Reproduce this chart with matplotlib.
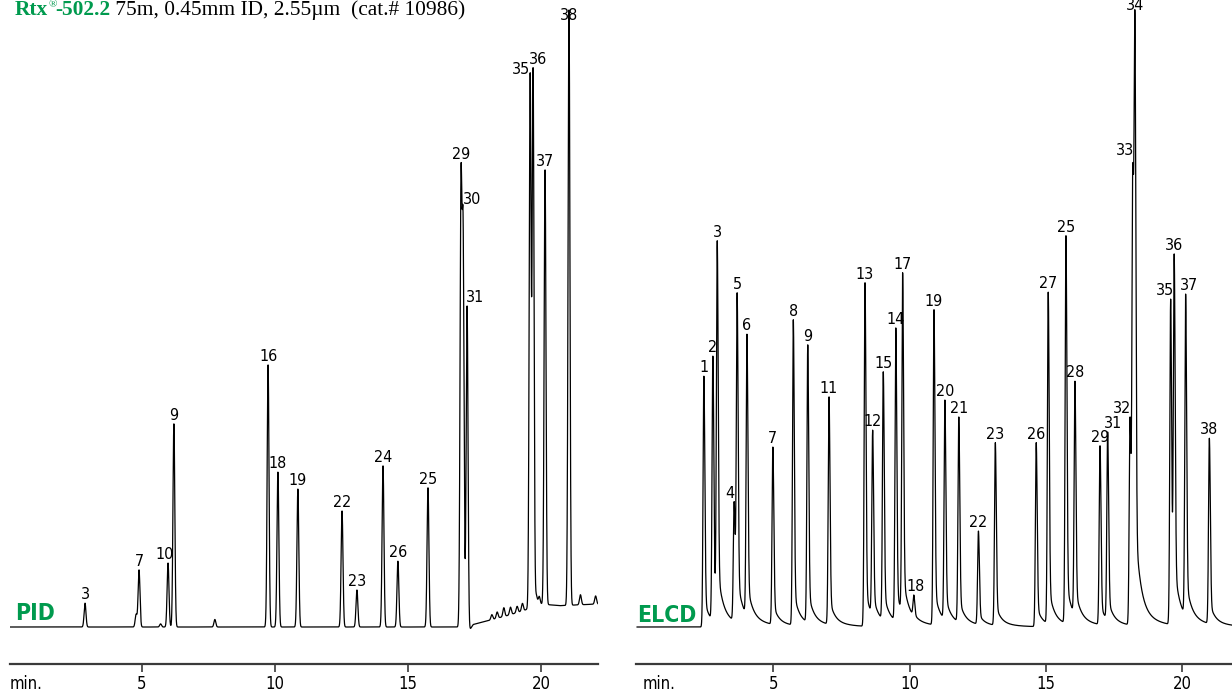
import os
import numpy as np
import matplotlib.pyplot as plt
from matplotlib import font_manager
from matplotlib.font_manager import FontProperties

# ---- data (time in min, apex level in % of full scale) ----
pid_ids = ['3', '7', '10', '9', '16', '18', '19', '22', '23', '24', '26', '25',
           '29', '30', '31', '35', '36', '37', '38']
pid_rt = [2.86, 4.89, 5.98, 6.20, 9.74, 10.11, 10.86, 12.52, 13.08, 14.06, 14.62, 15.75,
          16.99, 17.07, 17.22, 19.59, 19.70, 20.15, 21.05]
pid_height = [3.8, 9.1, 10.2, 32.4, 41.8, 24.7, 22.0, 18.5, 5.9, 25.7, 10.5, 22.2,
              73.0, 65.5, 51.2, 88.4, 89.2, 72.9, 98.4]

# small unlabeled bumps / noise on the PID trace
pid_minor_rt = [4.78, 5.70, 7.74, 18.15, 18.35, 18.60, 18.85, 19.10, 19.30, 19.82, 19.93, 21.48, 22.05]
pid_minor_height = [2.0, 0.5, 1.2, 0.8, 1.0, 1.4, 1.2, 1.0, 1.2, 1.5, 1.2, 1.6, 1.3]

# PID baseline drift
pid_base_t = [0.0, 16.9, 17.3, 17.45, 18.0, 18.8, 19.4, 19.9, 20.7, 22.3]
pid_base_y = [0.0, 0.0, -0.6, 0.4, 1.0, 1.9, 2.7, 3.7, 3.4, 3.7]

elcd_ids = ['1', '2', '3', '4', '5', '6', '7', '8', '9', '11', '13', '12', '15', '14', '17',
            '18', '19', '20', '21', '22', '23', '26', '27', '25', '28', '29', '31', '32',
            '33', '34', '35', '36', '37', '38']
elcd_rt = [2.45, 2.78, 2.94, 3.56, 3.67, 4.03, 4.98, 5.73, 6.26, 7.04, 8.36, 8.64, 9.03, 9.49, 9.74,
           10.15, 10.89, 11.29, 11.80, 12.52, 13.14, 14.64, 15.08, 15.73, 16.06, 16.98, 17.26, 18.08,
           18.18, 18.26, 19.57, 19.70, 20.12, 20.99]
elcd_height = [40.0, 43.2, 61.6, 20.0, 53.3, 46.7, 28.7, 49.0, 45.0, 36.7, 54.9, 31.4, 40.7, 47.7, 56.5,
               5.1, 50.6, 36.2, 33.5, 15.3, 29.4, 29.4, 53.4, 62.4, 39.2, 28.9, 31.1, 33.5,
               73.8, 97.8, 52.3, 59.5, 53.1, 30.1]

# label nudges in pixels (dx, dy)
pid_nudge = {'10': (-3, 0), '30': (9, -4), '31': (8, 0), '35': (-9, -5), '36': (5, 0), '38': (0, -14)}
elcd_nudge = {'4': (-4, 0), '18': (2, 0), '31': (5, 0), '32': (-8, 0), '33': (-8, 0), '34': (0, -4),
              '35': (-6, 0), '37': (3, 0)}

GREEN = '#009a4e'


def find_font(keys, fallback):
    files = [f.fname for f in font_manager.fontManager.ttflist] + font_manager.findSystemFonts()
    for k in keys:
        for fn in files:
            if os.path.basename(fn).lower().replace(' ', '').startswith(k.lower()):
                return fn
    return fallback


NARROW = find_font(['LiberationSansNarrow-Regular', 'DejaVuSansCondensed.', 'RobotoCondensed-Regular',
                    'OpenSans_Condensed-Regular', 'OpenSansCondensed-Regular'], None)
NARROW_B = find_font(['LiberationSansNarrow-Bold.', 'DejaVuSansCondensed-Bold.', 'RobotoCondensed-Bold',
                      'OpenSans_Condensed-Bold', 'OpenSansCondensed-Bold'], None)


def fp(size, bold=False):
    fn = NARROW_B if bold else NARROW
    if fn:
        return FontProperties(fname=fn, size=size)
    return FontProperties(family='Liberation Sans', size=size, weight='bold' if bold else 'normal')


t = np.arange(0, 22.4, 0.002)
PID_SIG = 0.035


def pid_shape(d):
    return np.exp(-0.5 * (d / PID_SIG) ** 2)


def elcd_shape(d):
    d = np.asarray(d, dtype=float)
    dd = np.where(d > 0, d, 0)
    tail = 0.88 * np.exp(-0.5 * (dd / 0.035) ** 2) + 0.10 * np.exp(-dd / 0.18) + 0.02 * np.exp(-dd / 0.6)
    return np.where(d > 0, tail, np.exp(-0.5 * (d / 0.03) ** 2))


def amplitudes(rts, levels, shape, offset):
    # amplitudes so that the summed trace passes through the read apex levels
    rts = np.asarray(rts)
    m = shape(rts[:, None] - rts[None, :])
    return np.linalg.solve(m, np.asarray(levels) - offset)


def pid_trace():
    base = np.interp(t, pid_base_t, pid_base_y)
    minor = np.zeros_like(t)
    for rt, h in zip(pid_minor_rt, pid_minor_height):
        minor += h * pid_shape(t - rt)
    off = np.interp(pid_rt, pid_base_t, pid_base_y)
    amps = amplitudes(pid_rt, pid_height, pid_shape, off)
    y = base + minor
    for rt, a in zip(pid_rt, amps):
        y += a * pid_shape(t - rt)
    return y


def elcd_trace():
    amps = amplitudes(elcd_rt, elcd_height, elcd_shape, 0.0)
    y = np.zeros_like(t)
    for rt, a in zip(elcd_rt, amps):
        y += a * elcd_shape(t - rt)
    return y


fig = plt.figure(figsize=(12.32, 6.91), dpi=100)
W, H = 1232, 691
ax1 = fig.add_axes([10 / W, 27 / H, 588 / W, 664 / H])
ax2 = fig.add_axes([636 / W, 27 / H, 596 / W, 664 / H])

panels = [
    (ax1, pid_trace(), pid_ids, pid_rt, pid_nudge, (0.04, 22.14)),
    (ax2, elcd_trace(), elcd_ids, elcd_rt, elcd_nudge, (-0.04, 21.82)),
]

LAB = 11.5
for ax, y, ids, rts, nudge, xlim in panels:
    ax.plot(t, y, color='black', lw=0.9)
    for lab, rt in zip(ids, rts):
        win = (t > rt - 0.04) & (t < rt + 0.04)
        top = y[win].max()
        dx, dy = nudge.get(lab, (0, 0))
        ax.annotate(lab, (rt, top), xytext=(dx, 4 + dy), textcoords='offset pixels',
                    ha='center', va='baseline', fontproperties=fp(LAB), annotation_clip=False)
    ax.set_xlim(*xlim)
    ax.set_ylim(-5.9, 100)
    for s in ['top', 'right', 'left']:
        ax.spines[s].set_visible(False)
    ax.spines['bottom'].set_linewidth(1.6)
    ax.spines['bottom'].set_color('#3a3a3a')
    ax.set_yticks([])
    ax.set_xticks([5, 10, 15, 20])
    ax.tick_params(axis='x', direction='out', length=5.5, width=1.2, color='#3a3a3a', pad=2.5)
    for lb in ax.get_xticklabels():
        lb.set_fontproperties(fp(12))
    ax.patch.set_visible(False)

# "min." sits on the same line as the tick numbers
min_top = 1 - (664 + 5.5 / 0.72 + 2.5 / 0.72) / H
fig.text(10 / W, min_top, 'min.', fontproperties=fp(12), va='top', ha='left')
fig.text(643 / W, min_top, 'min.', fontproperties=fp(12), va='top', ha='left')

fig.text(15 / W, 1 - 620 / H, 'PID', fontproperties=fp(16.5, True), color=GREEN, va='baseline')
fig.text(637 / W, 1 - 622 / H, 'ELCD', fontproperties=fp(16.5, True), color=GREEN, va='baseline')

# title line, pieces chained one after the other
serif = 'Liberation Serif'
t1 = fig.text(15 / W, 1 - 15 / H, 'Rtx', family=serif, fontsize=15.4, fontweight='bold',
              color=GREEN, va='baseline')
ax1.annotate('®', xy=(1, 0.55), xycoords=t1, va='bottom', family=serif, fontsize=8,
             color=GREEN, annotation_clip=False)
t3 = ax1.annotate('-502.2', xy=(1, 0), xycoords=t1, xytext=(7, 0), textcoords='offset pixels',
                  va='bottom', family=serif, fontsize=15.4, fontweight='bold', color=GREEN,
                  annotation_clip=False)
ax1.annotate(' 75m, 0.45mm ID, 2.55µm  (cat.# 10986)', xy=(1, 0), xycoords=t3, va='bottom',
             family=serif, fontsize=15.4, color='black', annotation_clip=False)

fig.savefig('out.png', dpi=100)
